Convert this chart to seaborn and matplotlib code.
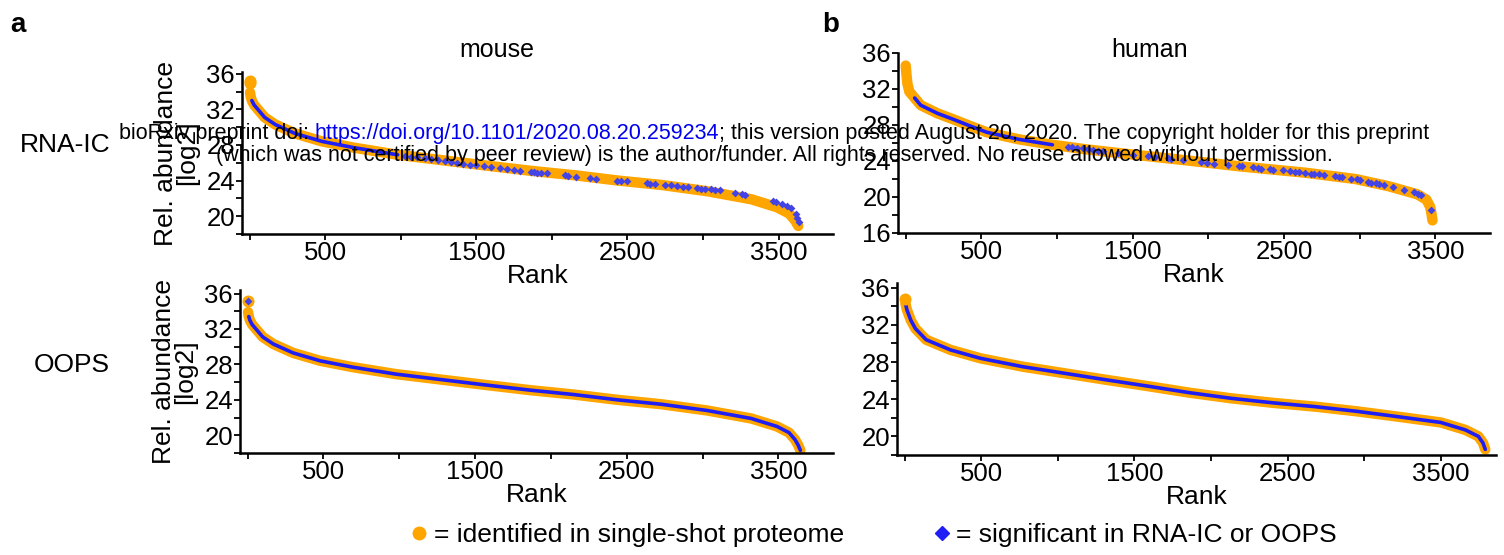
import numpy as np
import pandas as pd
import matplotlib
matplotlib.use('Agg')
import matplotlib.pyplot as plt
from matplotlib.lines import Line2D
import seaborn as sns

# ---- data (rank vs log2 abundance) ----
# mouse single-shot proteome (same for RNA-IC and OOPS rows)
mouse_top_rank = [1, 2]
mouse_top_val = [35.2, 35.0]
mouse_rank = [3, 8, 15, 30, 60, 100, 170, 300, 480, 690, 980, 1270, 1560, 1860,
              2150, 2440, 2730, 3030, 3320, 3490, 3570, 3610, 3630, 3645]
mouse_val = [33.9, 33.4, 33.0, 32.5, 31.9, 31.1, 30.3, 29.3, 28.4, 27.7, 26.9, 26.3, 25.7, 25.1,
             24.6, 24.0, 23.5, 22.8, 21.9, 21.0, 20.3, 19.5, 18.9, 18.3]

# mouse RNA-IC significant (sparse part after the dense head)
mouse_ric_sig_rank = [1030, 1070, 1110, 1160, 1200, 1250, 1290, 1330, 1370, 1410, 1460, 1500, 1550, 1600,
                      1660, 1700, 1750, 1790, 1860, 1880, 1900, 1930, 1970, 2090, 2110, 2160, 2250, 2290,
                      2430, 2460, 2500, 2630, 2650, 2680, 2750, 2790, 2830, 2870, 2900, 2960, 2990, 3010,
                      3050, 3080, 3110, 3210, 3260, 3280, 3460, 3480, 3520, 3555, 3585, 3615, 3625, 3632]
mouse_ric_sig_val = [26.8, 26.7, 26.6, 26.5, 26.4, 26.3, 26.2, 26.1, 26.0, 25.9, 25.8, 25.7, 25.6, 25.5,
                     25.4, 25.3, 25.2, 25.1, 25.0, 24.95, 24.9, 24.85, 24.8, 24.6, 24.55, 24.45, 24.3, 24.2,
                     24.0, 23.95, 23.9, 23.7, 23.65, 23.6, 23.5, 23.45, 23.4, 23.3, 23.3, 23.2, 23.1, 23.1,
                     23.0, 22.95, 22.9, 22.6, 22.45, 22.4, 21.7, 21.6, 21.4, 21.2, 20.9, 20.2, 19.8, 19.4]

# human proteome, RNA-IC row
human_ric_rank = [1, 3, 6, 12, 25, 60, 100, 210, 320, 425, 535, 750, 970, 1190, 1400, 1620, 1840,
                  2210, 2640, 2970, 3190, 3380, 3440, 3465, 3475, 3480]
human_ric_val = [34.6, 34.2, 33.6, 32.6, 31.7, 31.0, 30.2, 29.3, 28.6, 27.9, 27.2, 26.4, 25.8, 25.3, 24.9, 24.5, 24.1,
                 23.4, 22.7, 22.0, 21.2, 20.3, 19.7, 18.9, 18.0, 17.4]
human_ric_sig_rank = [1070, 1100, 1135, 1170, 1205, 1240, 1270, 1305, 1400, 1500, 1600, 1645, 1730, 1755, 1830,
                      1950, 1990, 2035, 2130, 2200, 2220, 2295, 2330, 2350, 2410, 2425, 2490, 2540, 2575, 2600,
                      2640, 2675, 2700, 2730, 2765, 2835, 2860, 2880, 2945, 2980, 3000, 3055, 3075, 3110, 3130,
                      3160, 3220, 3290, 3360, 3385, 3405, 3470]
human_ric_sig_val = [25.6, 25.55, 25.45, 25.4, 25.3, 25.2, 25.15, 25.1, 24.9, 24.7, 24.5, 24.45, 24.3, 24.25, 24.1,
                     23.9, 23.8, 23.7, 23.55, 23.45, 23.4, 23.3, 23.2, 23.15, 23.1, 23.05, 22.95, 22.85, 22.8, 22.75,
                     22.7, 22.6, 22.55, 22.5, 22.45, 22.3, 22.25, 22.2, 22.05, 21.95, 21.9, 21.7, 21.6, 21.5, 21.4,
                     21.3, 21.1, 20.8, 20.5, 20.35, 20.2, 18.6]

# human proteome, OOPS row
human_oops_rank = [1, 5, 15, 40, 70, 140, 300, 495, 770, 1040, 1310, 1590, 1860, 2130, 2410, 2680,
                   2950, 3230, 3500, 3660, 3745, 3775, 3790]
human_oops_val = [34.8, 34.3, 33.6, 32.5, 31.6, 30.4, 29.3, 28.4, 27.5, 26.8, 26.1, 25.4, 24.7, 24.1, 23.6, 23.2,
                  22.7, 22.1, 21.5, 20.7, 20.0, 19.3, 18.6]

ORANGE = '#ffa500'
BLUE = '#1e1ef5'
DIAM = '#4343e6'

sns.set_style('ticks')
plt.rcParams['font.family'] = ['Liberation Sans', 'DejaVu Sans']
for k in ['text.color', 'axes.labelcolor', 'xtick.color', 'ytick.color', 'axes.edgecolor']:
    plt.rcParams[k] = 'black'

W, H = 1504, 555
fig = plt.figure(figsize=(W / 100, H / 100), dpi=100)


def box(l, t, r, b):
    return [l / W, 1 - b / H, (r - l) / W, (b - t) / H]


def prot_line(ax, x, y):
    sns.lineplot(x=x, y=y, ax=ax, color=ORANGE, lw=7.5, solid_capstyle='round', sort=False)


def sig_line(ax, x, y):
    sns.lineplot(x=x, y=y, ax=ax, color=BLUE, lw=2.6, solid_capstyle='round', sort=False)


def sig_pts(ax, x, y):
    sns.scatterplot(x=x, y=y, ax=ax, marker='D', color=DIAM, s=16, linewidth=0, zorder=5)


def top_pts(ax, x, y):
    sns.scatterplot(x=x, y=y, ax=ax, marker='o', color=ORANGE, s=75, linewidth=0, zorder=3)


def style(ax, ylim, yticks, yminor, ylab):
    ax.set_xlim(-50, 3860)
    ax.set_ylim(*ylim)
    ax.set_xticks([500, 1500, 2500, 3500])
    ax.set_xticks([0, 1000, 2000, 3000], minor=True)
    ax.set_yticks(yticks)
    ax.set_yticks(yminor, minor=True)
    sns.despine(ax=ax)
    for s in ['left', 'bottom']:
        ax.spines[s].set_linewidth(1.8)
    ax.tick_params(which='both', direction='out', length=4, width=1.3, labelsize=18.5, pad=1)
    ax.set_xlabel('Rank', fontsize=19, labelpad=-1)
    if ylab:
        ax.set_ylabel('Rel. abundance\n[log2]', fontsize=19, linespacing=0.85, labelpad=5)
    else:
        ax.set_ylabel('')


# top-left: mouse RNA-IC
ax1 = fig.add_axes(box(242, 72, 833, 234))
prot_line(ax1, mouse_rank[:-1], mouse_val[:-1])
top_pts(ax1, mouse_top_rank, mouse_top_val)
sig_line(ax1, mouse_rank[2:11], mouse_val[2:11])
sig_pts(ax1, mouse_ric_sig_rank, mouse_ric_sig_val)
style(ax1, (18.2, 36.2), [20, 24, 28, 32, 36], [18, 22, 26, 30, 34], True)

# top-right: human RNA-IC
ax2 = fig.add_axes(box(898, 53, 1490, 233))
prot_line(ax2, human_ric_rank, human_ric_val)
sig_line(ax2, human_ric_rank[5:13], human_ric_val[5:13])
sig_pts(ax2, human_ric_sig_rank, human_ric_sig_val)
style(ax2, (16, 36), [16, 20, 24, 28, 32, 36], [18, 22, 26, 30, 34], False)

# bottom-left: mouse OOPS
ax3 = fig.add_axes(box(240, 290, 833, 453))
prot_line(ax3, mouse_rank, mouse_val)
top_pts(ax3, mouse_top_rank[:1], mouse_top_val[:1])
sig_line(ax3, mouse_rank[1:], mouse_val[1:])
sig_pts(ax3, mouse_top_rank[:1], mouse_top_val[:1])
style(ax3, (18.3, 36.4), [20, 24, 28, 32, 36], [18, 22, 26, 30, 34], True)

# bottom-right: human OOPS
ax4 = fig.add_axes(box(897, 283, 1496, 455))
prot_line(ax4, human_oops_rank[1:], human_oops_val[1:])
top_pts(ax4, human_oops_rank[:1], human_oops_val[:1])
sig_line(ax4, human_oops_rank[1:], human_oops_val[1:])
style(ax4, (18.3, 36.5), [20, 24, 28, 32, 36], [18, 22, 26, 30, 34], False)

# panel letters, titles, row labels
fig.text(10 / W, 1 - 25 / H, 'a', fontsize=20, fontweight='bold', va='center')
fig.text(822 / W, 1 - 25 / H, 'b', fontsize=20, fontweight='bold', va='center')
fig.text(497 / W, 1 - 50 / H, 'mouse', fontsize=18, ha='center', va='center')
fig.text(1150 / W, 1 - 50 / H, 'human', fontsize=18, ha='center', va='center')
fig.text(65 / W, 1 - 145 / H, 'RNA-IC', fontsize=19, ha='center', va='center')
fig.text(72 / W, 1 - 365 / H, 'OOPS', fontsize=19, ha='center', va='center')

# legend
handles = [Line2D([], [], marker='o', ls='', color=ORANGE, markersize=9),
           Line2D([], [], marker='D', ls='', color=BLUE, markersize=7)]
labels = ['= identified in single-shot proteome', '= significant in RNA-IC or OOPS']
fig.legend(handles, labels, ncol=2, loc='center', bbox_to_anchor=(874 / W, 1 - 535 / H),
           frameon=False, fontsize=19, handlelength=0.6, handletextpad=0.25, columnspacing=3.4)

# bioRxiv watermark
renderer = fig.canvas.get_renderer()
wm_size = 15.5
line1 = [('bioRxiv preprint doi: ', 'black'),
         ('https://doi.org/10.1101/2020.08.20.259234', '#0000ee'),
         ('; this version posted August 20, 2020. The copyright holder for this preprint', 'black')]
line2 = [('(which was not certified by peer review) is the author/funder. All rights reserved. '
          'No reuse allowed without permission.', 'black')]
for parts, ypix in [(line1, 133), (line2, 155)]:
    txts = [fig.text(0, 1 - ypix / H, s, color=c, fontsize=wm_size, va='center') for s, c in parts]
    widths = [t.get_window_extent(renderer).width for t in txts]
    x = 774 - sum(widths) / 2
    for t, w in zip(txts, widths):
        t.set_x(x / W)
        x += w

fig.savefig('out.png', dpi=100)
